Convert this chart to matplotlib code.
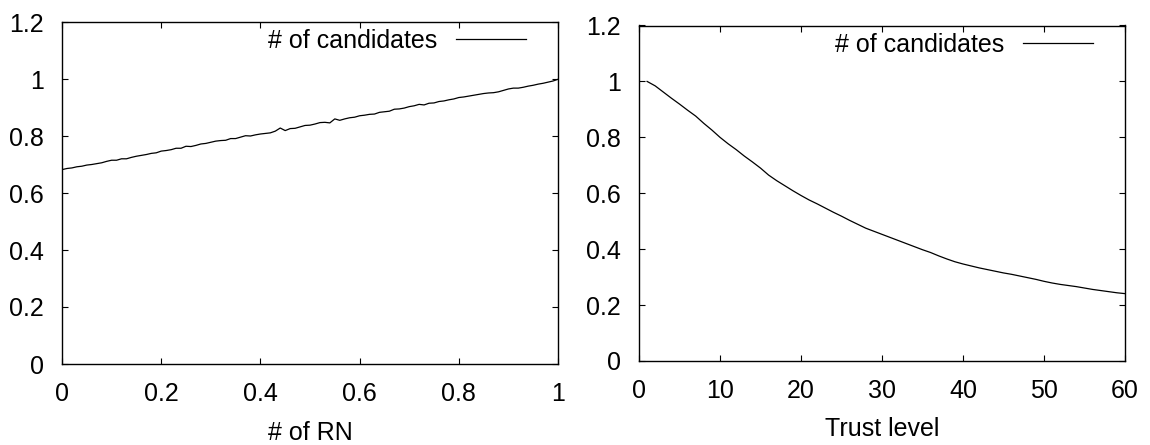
"""Two gnuplot-style panels: # of candidates vs # of RN and vs trust level."""
import matplotlib
matplotlib.use("Agg")
import matplotlib.pyplot as plt
import numpy as np

plt.rcParams["font.family"] = ["Liberation Sans", "DejaVu Sans"]

SERIES_LABEL = "# of candidates"

# left panel: fraction of RN (step 0.01)
rn_x = np.arange(0, 101) / 100.0
rn_y = [
    0.682, 0.686, 0.688, 0.692, 0.694, 0.698, 0.700, 0.703, 0.706, 0.711,
    0.715, 0.715, 0.720, 0.720, 0.725, 0.729, 0.732, 0.735, 0.739, 0.741,
    0.747, 0.749, 0.752, 0.757, 0.757, 0.764, 0.763, 0.767, 0.772, 0.774,
    0.778, 0.782, 0.784, 0.785, 0.791, 0.791, 0.796, 0.801, 0.800, 0.804,
    0.807, 0.809, 0.811, 0.817, 0.828, 0.819, 0.826, 0.827, 0.832, 0.837,
    0.838, 0.842, 0.847, 0.848, 0.846, 0.860, 0.855, 0.860, 0.864, 0.866,
    0.871, 0.873, 0.876, 0.877, 0.883, 0.885, 0.887, 0.894, 0.895, 0.898,
    0.903, 0.906, 0.911, 0.909, 0.915, 0.916, 0.921, 0.923, 0.927, 0.930,
    0.935, 0.937, 0.940, 0.943, 0.946, 0.949, 0.951, 0.952, 0.955, 0.960,
    0.965, 0.968, 0.968, 0.971, 0.975, 0.978, 0.982, 0.985, 0.989, 0.993,
    0.999,
]

# right panel: trust level 1..60
trust_x = np.arange(1, 61)
trust_y = [
    1.000, 0.984, 0.962, 0.940, 0.919, 0.897, 0.876, 0.850, 0.826, 0.800,
    0.777, 0.756, 0.733, 0.712, 0.690, 0.665, 0.645, 0.627, 0.609, 0.592,
    0.576, 0.562, 0.547, 0.532, 0.518, 0.503, 0.489, 0.475, 0.464, 0.453,
    0.442, 0.431, 0.420, 0.409, 0.398, 0.388, 0.376, 0.365, 0.355, 0.347,
    0.340, 0.333, 0.327, 0.321, 0.315, 0.310, 0.304, 0.298, 0.292, 0.285,
    0.279, 0.274, 0.270, 0.266, 0.261, 0.256, 0.252, 0.248, 0.244, 0.241,
]

FS = 18
W, H = 1150, 445


def style_axes(ax, leg_x, leg_y):
    ax.tick_params(direction="in", length=4.5, width=0.8, top=True, right=True,
                   labelsize=FS, pad=13)
    for s in ax.spines.values():
        s.set_linewidth(1.0)
    ax.set_ylim(0, 1.2)
    ax.set_yticks([0, 0.2, 0.4, 0.6, 0.8, 1, 1.2])
    ax.set_yticklabels(["0", "0.2", "0.4", "0.6", "0.8", "1", "1.2"])
    ax.legend(loc="center right", bbox_to_anchor=(leg_x, leg_y), frameon=False,
              markerfirst=False, fontsize=FS, handlelength=2.8,
              handletextpad=0.75, borderpad=0, borderaxespad=0)


fig = plt.figure(figsize=(W / 100, H / 100), dpi=100)
ax1 = fig.add_axes([62 / W, 1 - 364 / H, (558 - 62) / W, (364 - 22) / H])
ax2 = fig.add_axes([639 / W, 1 - 361 / H, (1125 - 639) / W, (361 - 25.5) / H])

ax1.plot(rn_x, rn_y, color="black", linewidth=0.9, label=SERIES_LABEL)
ax1.set_xlim(0, 1)
ax1.set_xticks([0, 0.2, 0.4, 0.6, 0.8, 1])
ax1.set_xticklabels(["0", "0.2", "0.4", "0.6", "0.8", "1"])
ax1.set_xlabel("# of RN", fontsize=FS, labelpad=11)
style_axes(ax1, (526 - 62) / (558 - 62), 1 - 18.5 / 342)

ax2.plot(trust_x, trust_y, color="black", linewidth=0.9, label=SERIES_LABEL)
ax2.set_xlim(0, 60)
ax2.set_xticks([0, 10, 20, 30, 40, 50, 60])
ax2.set_xlabel("Trust level", fontsize=FS, labelpad=10)
style_axes(ax2, (1093 - 639) / (1125 - 639), 1 - 19.5 / 335.5)

fig.savefig("out.png", dpi=100)
